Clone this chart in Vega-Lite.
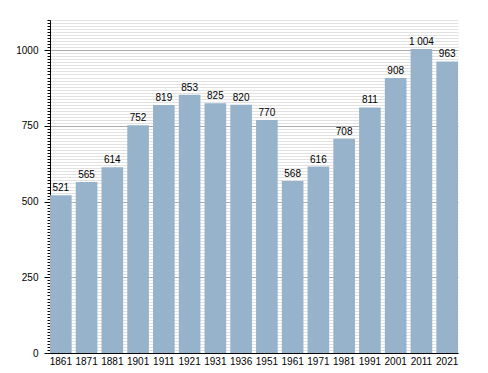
{
  "$schema": "https://vega.github.io/schema/vega-lite/v6.json",
  "width": 408,
  "height": 333,
  "padding": {"left": 50, "top": 20, "right": 30, "bottom": 20},
  "autosize": {"type": "none"},
  "background": "white",
  "config": {
    "view": {"stroke": null},
    "font": "Liberation Sans",
    "locale": {"number": {"decimal": ",", "thousands": " ", "grouping": [3], "currency": ["", " €"]}}
  },
  "data": {"values": [
    {"year": "1861", "pop": 521},
    {"year": "1871", "pop": 565},
    {"year": "1881", "pop": 614},
    {"year": "1901", "pop": 752},
    {"year": "1911", "pop": 819},
    {"year": "1921", "pop": 853},
    {"year": "1931", "pop": 825},
    {"year": "1936", "pop": 820},
    {"year": "1951", "pop": 770},
    {"year": "1961", "pop": 568},
    {"year": "1971", "pop": 616},
    {"year": "1981", "pop": 708},
    {"year": "1991", "pop": 811},
    {"year": "2001", "pop": 908},
    {"year": "2011", "pop": 1004},
    {"year": "2021", "pop": 963}
  ]},
  "encoding": {
    "x": {
      "field": "year", "type": "ordinal", "sort": null,
      "scale": {"paddingInner": 0.16, "paddingOuter": 0},
      "axis": {"title": null, "labelAngle": 0, "ticks": false, "labelPadding": 3, "labelFontSize": 10, "labelColor": "#000", "domainColor": "#000", "domainWidth": 1, "grid": false}
    },
    "y": {
      "field": "pop", "type": "quantitative",
      "scale": {"domain": [0, 1100], "nice": false},
      "axis": {
        "title": null,
        "values": [0,10,20,30,40,50,60,70,80,90,100,110,120,130,140,150,160,170,180,190,200,210,220,230,240,250,260,270,280,290,300,310,320,330,340,350,360,370,380,390,400,410,420,430,440,450,460,470,480,490,500,510,520,530,540,550,560,570,580,590,600,610,620,630,640,650,660,670,680,690,700,710,720,730,740,750,760,770,780,790,800,810,820,830,840,850,860,870,880,890,900,910,920,930,940,950,960,970,980,990,1000,1010,1020,1030,1040,1050,1060,1070,1080,1090,1100],
        "format": "d",
        "labelExpr": "datum.value % 250 === 0 ? datum.label : ''",
        "labelOverlap": false,
        "labelFontSize": 10,
        "labelColor": "#000",
        "labelPadding": 6,
        "domainColor": "#000",
        "tickColor": "#000",
        "tickSize": {"condition": {"test": "datum.value % 250 === 0", "value": 6}, "value": 3},
        "grid": true,
        "gridColor": {"condition": {"test": "datum.value % 250 === 0", "value": "#aaaaaa"}, "value": "#e2e2e2"},
        "gridWidth": 1
      }
    }
  },
  "layer": [
    {"mark": {"type": "bar", "color": "#97b2cb"}},
    {
      "mark": {"type": "text", "baseline": "alphabetic", "dy": -4, "fontSize": 10, "color": "#000"},
      "encoding": {"text": {"field": "pop", "type": "quantitative", "format": ",d"}}
    }
  ]
}
